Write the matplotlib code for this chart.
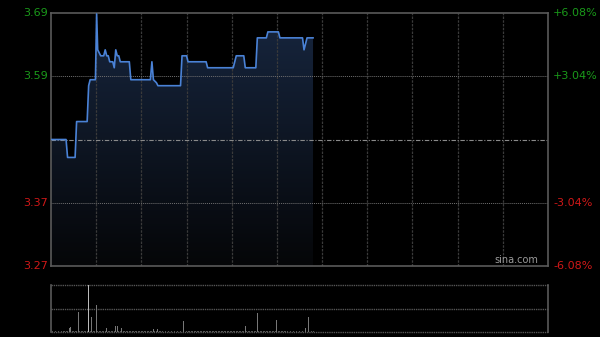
import numpy as np
import matplotlib
matplotlib.use('Agg')
import matplotlib.pyplot as plt
from matplotlib.colors import LinearSegmentedColormap
from matplotlib.transforms import blended_transform_factory

prev_close = 3.48
pct_levels = [6.08, 3.04, -3.04, -6.08]
price_labels = ['3.69', '3.59', '3.37', '3.27']
pct_labels = ['+6.08%', '+3.04%', '-3.04%', '-6.08%']

# минуты от начала торгов и цена (вершины линии)
minutes = [0, 10, 11, 16, 17, 24, 25, 26, 29.5, 30.3, 31, 32, 33, 35, 36, 37, 38, 39,
           41, 42, 43, 44, 45, 46, 52, 53, 66, 67, 68, 70, 71, 86, 87, 90, 91, 103,
           104, 121, 123, 128, 129, 136, 137, 143, 144, 151, 152, 167, 168, 170, 174]
prices = [3.48, 3.48, 3.45, 3.45, 3.51, 3.51, 3.57, 3.58, 3.58, 3.69, 3.63, 3.625, 3.62,
          3.62, 3.63, 3.62, 3.62, 3.61, 3.61, 3.60, 3.63, 3.62, 3.62, 3.61, 3.61, 3.58,
          3.58, 3.61, 3.58, 3.575, 3.57, 3.57, 3.62, 3.62, 3.61, 3.61, 3.60, 3.60, 3.62,
          3.62, 3.60, 3.60, 3.65, 3.65, 3.66, 3.66, 3.65, 3.65, 3.63, 3.65, 3.65]

# объём (условные единицы)
vol_min = [0, 12, 13, 18, 25, 27, 30, 37, 43, 44, 47, 68, 71, 88, 129, 137, 150, 169, 171]
vol_val = [3, 4, 5, 20, 47, 15, 27, 4, 6, 6, 4, 3, 3, 11, 6, 19, 12, 4, 15]

bg = '#000000'
green = '#1a9a1a'
red = '#d01818'
line_c = '#4a82d6'

fig = plt.figure(figsize=(6, 3.37), dpi=100, facecolor=bg)
ax = fig.add_axes([51/600, 1-266/337, 497/600, 253/337], facecolor=bg)
axv = fig.add_axes([51/600, 1-332/337, 497/600, 47/337], facecolor=bg)

ymax = prev_close*(1+0.0608)
ymin = prev_close*(1-0.0608)
ax.set_xlim(0, 330)
ax.set_ylim(ymin, ymax)

# градиентная заливка под линией
cmap = LinearSegmentedColormap.from_list('g', ['#050608', '#17263f'])
grad = np.linspace(0, 1, 256).reshape(-1, 1)
im = ax.imshow(grad, extent=[0, 330, ymin, ymax], origin='lower', aspect='auto',
               cmap=cmap, zorder=1)
poly = ax.fill_between(minutes, prices, ymin, color='none', lw=0)
im.set_clip_path(poly.get_paths()[0], transform=ax.transData)
ax.plot(minutes, prices, color=line_c, lw=1.2, zorder=3)

for m in range(30, 330, 30):
    ax.axvline(m, color='#3a3a3a', lw=0.9, ls=(0, (2, 1)), zorder=2)
for p in [3.04, -3.04]:
    ax.axhline(prev_close*(1+p/100), color='#707070', lw=0.7, ls=(0, (1, 1)), zorder=2)
ax.axhline(prev_close, color='#8a8a8a', lw=0.8, ls=(0, (4, 1.5, 1, 1.5)), zorder=2)

ax.set_xticks([])
ax.set_yticks([])
for s in ax.spines.values():
    s.set_color('#5a5a5a')
    s.set_linewidth(1.2)

tr = blended_transform_factory(fig.transFigure, ax.transData)
for pc, pl, lab in zip(pct_levels, price_labels, pct_labels):
    y = prev_close*(1+pc/100)
    c = green if pc > 0 else red
    fig.text(48/600, y, pl, transform=tr, ha='right', va='center', color=c, fontsize=8)
    fig.text(553/600, y, lab, transform=tr, ha='left', va='center', color=c, fontsize=8)

ax.text(0.98, 0.005, 'sina.com', transform=ax.transAxes, ha='right', va='bottom',
        color='#9a9a9a', fontsize=7, zorder=4)

# объём
vmax = max(vol_val)
axv.set_xlim(0, 330)
axv.set_ylim(0, vmax)
all_min = np.arange(0, 175)
axv.bar(all_min, np.full(len(all_min), vmax*0.025), width=0.6, color='#555555', zorder=2)
colors = ['#bbbbbb' if v == vmax else '#777777' for v in vol_val]
axv.bar(vol_min, vol_val, width=0.6, color=colors, zorder=3)
for y in [0, vmax/2, vmax]:
    axv.axhline(y, color='#555555', lw=1, ls=(0, (1, 0.6)), zorder=1, clip_on=False)
axv.set_xticks([])
axv.set_yticks([])
for k in ['top', 'bottom']:
    axv.spines[k].set_visible(False)
for k in ['left', 'right']:
    axv.spines[k].set_color('#5a5a5a')
    axv.spines[k].set_linewidth(1.2)

fig.savefig('out.png', dpi=100, facecolor=bg)
